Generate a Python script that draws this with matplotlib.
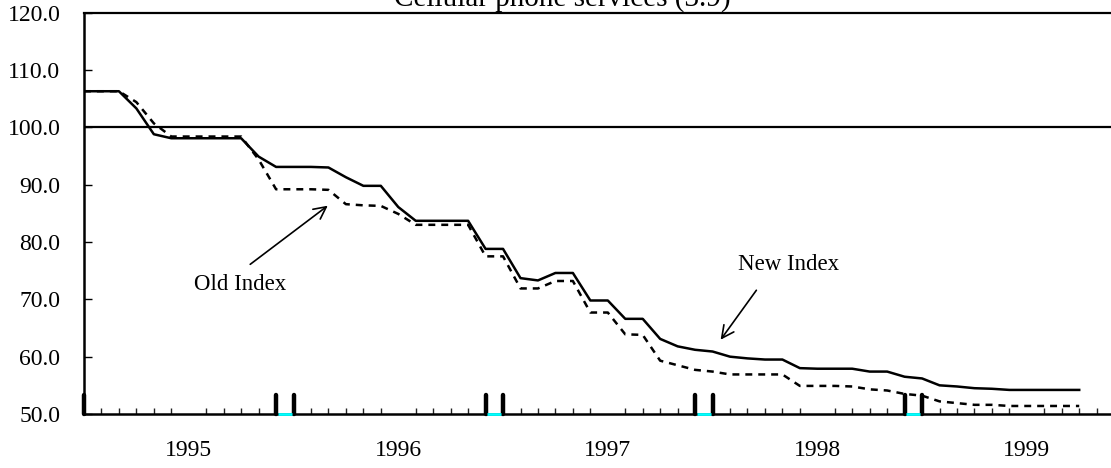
#!/usr/bin/env python3
"""Cellular phone services (3.9): old vs new index, monthly."""
import matplotlib
matplotlib.use("Agg")
import matplotlib.pyplot as plt
import numpy as np

# monthly index values, month 0 = first month shown
new_index = [106.3, 106.3, 106.3, 103.3, 98.8, 98.1, 98.1, 98.1, 98.1, 98.1,
             94.9, 93.1, 93.1, 93.1, 93.0, 91.3, 89.8, 89.8, 86.1, 83.7,
             83.7, 83.7, 83.7, 78.8, 78.8, 73.7, 73.3, 74.6, 74.6, 69.8,
             69.8, 66.6, 66.6, 63.1, 61.8, 61.2, 60.9, 60.0, 59.7, 59.5,
             59.5, 58.0, 57.9, 57.9, 57.9, 57.4, 57.4, 56.5, 56.2, 55.0,
             54.8, 54.5, 54.4, 54.2, 54.2, 54.2, 54.2, 54.2]
old_index = [106.3, 106.3, 106.3, 104.4, 100.7, 98.4, 98.4, 98.4, 98.4, 98.4,
             94.4, 89.2, 89.2, 89.2, 89.1, 86.6, 86.4, 86.3, 84.9, 83.0,
             83.0, 83.0, 83.0, 77.5, 77.5, 71.9, 71.9, 73.2, 73.2, 67.7,
             67.7, 63.9, 63.8, 59.3, 58.5, 57.7, 57.4, 56.9, 56.9, 56.9,
             56.9, 54.9, 54.9, 54.9, 54.8, 54.3, 54.1, 53.5, 53.2, 52.2,
             51.9, 51.6, 51.6, 51.4, 51.4, 51.4, 51.4, 51.4]
years = ["1995", "1996", "1997", "1998", "1999"]
year_centres = [6, 18, 30, 42, 54]
marker_months = [0, 11, 12, 23, 24, 35, 36, 47, 48]
marker_top = 53.4
cyan_spans = [(11, 12), (23, 24), (35, 36), (47, 48)]
y_ticks = [50, 60, 70, 80, 90, 100, 110, 120]

plt.rcParams["font.family"] = ["Liberation Serif", "DejaVu Serif"]
plt.rcParams["lines.scale_dashes"] = False

fig = plt.figure(figsize=(11.11, 4.68), dpi=100)
ax = fig.add_axes([84 / 1111, 1 - 414 / 468, 1 - 84 / 1111, (414 - 12.7) / 468])

months = np.arange(len(new_index))
ax.axhline(100, color="black", lw=1.6, zorder=2)
ax.plot(months, old_index, color="black", lw=1.8, dashes=(5, 4.3), zorder=3)
ax.plot(months, new_index, color="black", lw=1.8, zorder=4)

ax.vlines(marker_months, 50, marker_top, color="black", lw=3.2, capstyle="round",
          zorder=5, clip_on=False)
for a, b in cyan_spans:
    ax.plot([a + 0.1, b - 0.1], [50, 50], color="#00FFFF", lw=2, zorder=6,
            clip_on=False, solid_capstyle="butt")

ax.set_xlim(0, 1027 / 17.46)
ax.set_ylim(50, 120)

ax.set_xticks(year_centres)
ax.set_xticklabels(years)
ax.set_xticks(np.arange(0, 59), minor=True)
ax.tick_params(axis="x", which="major", length=0, pad=19, labelsize=17)
ax.tick_params(axis="x", which="minor", direction="in", length=4.5, width=1.0,
               color="#222222")
ax.set_yticks(y_ticks)
ax.set_yticklabels([f"{v:.1f}" for v in y_ticks])
ax.tick_params(axis="y", direction="in", length=5.8, width=1, pad=17,
               labelsize=17)

ax.spines["right"].set_visible(False)
ax.spines["left"].set_linewidth(1.8)
ax.spines["top"].set_linewidth(1.6)
ax.spines["bottom"].set_linewidth(1.8)

ax.annotate("", xy=(330, 468 - 204), xycoords="figure pixels",
            xytext=(248, 468 - 266), textcoords="figure pixels",
            arrowprops=dict(arrowstyle="->", lw=1.2, color="black",
                            mutation_scale=22))
fig.text(240 / 1111, 1 - 285 / 468, "Old Index", ha="center", va="center",
         fontsize=16.5)
ax.annotate("", xy=(719, 468 - 342), xycoords="figure pixels",
            xytext=(758, 468 - 288), textcoords="figure pixels",
            arrowprops=dict(arrowstyle="->", lw=1.2, color="black",
                            mutation_scale=22))
fig.text(789 / 1111, 1 - 265 / 468, "New Index", ha="center", va="center",
         fontsize=16.5)

fig.text(562 / 1111, 1 - 6 / 468, "Cellular phone services (3.9)", ha="center",
         va="baseline", fontsize=21)

fig.savefig("out.png", dpi=100)
